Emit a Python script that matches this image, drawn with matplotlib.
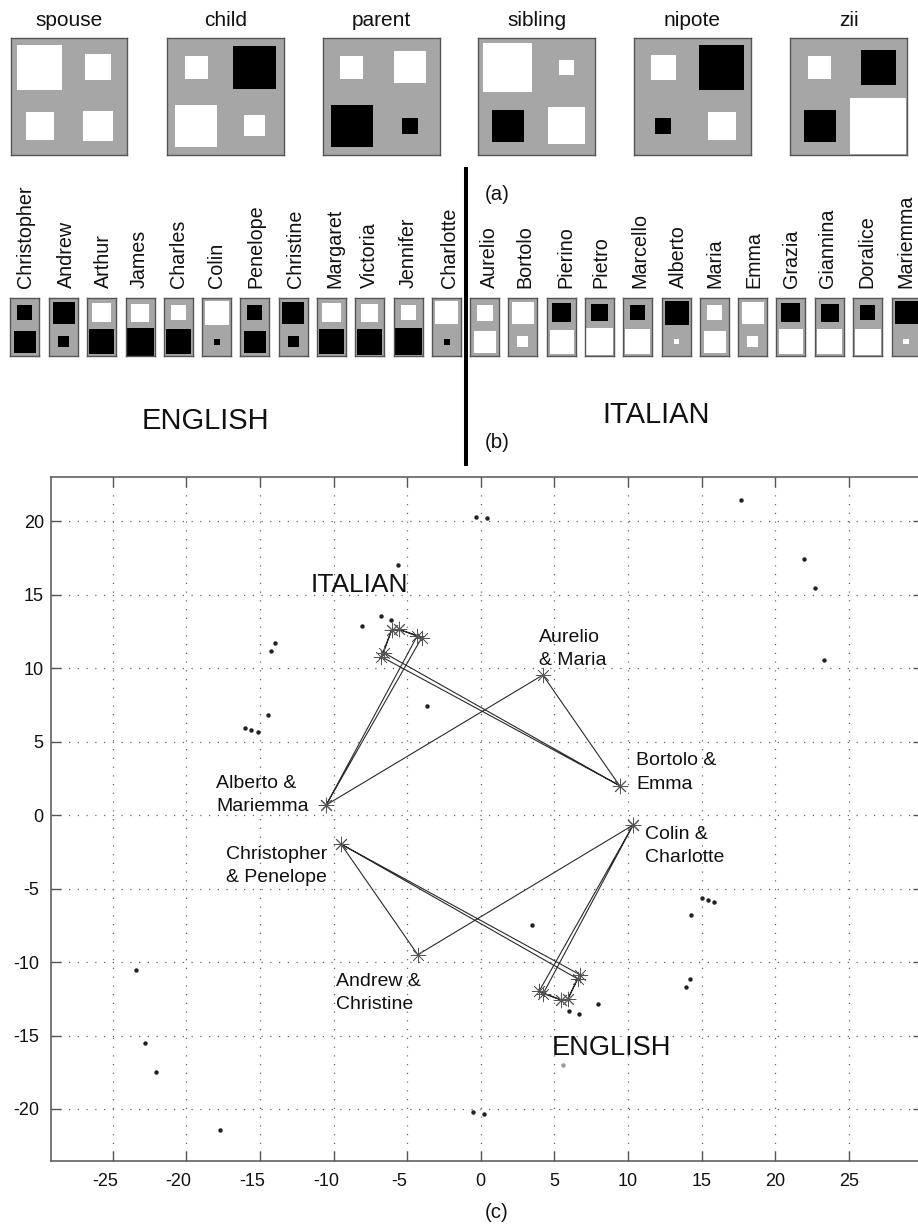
import matplotlib
matplotlib.use('Agg')
import matplotlib.pyplot as plt
from matplotlib.lines import Line2D
from matplotlib.patches import Rectangle
from matplotlib.transforms import ScaledTranslation

plt.rcParams['font.family'] = ['Liberation Sans', 'DejaVu Sans']
plt.rcParams['axes.unicode_minus'] = False

W, H = 918, 1225
DPI = 100

# relation matrices, signed box side (white > 0, black < 0), 2 x 2 cells
relations = ['spouse', 'child', 'parent', 'sibling', 'nipote', 'zii']
spouse = [[45, 26], [28, 30]]
child = [[23, -43], [42, 21]]
parent = [[23, 32], [-42, -16]]
sibling = [[49, 15], [-32, 37]]
nipote = [[25, -45], [-16, 28]]
zii = [[23, -35], [-32, 56]]
relation_values = [spouse, child, parent, sibling, nipote, zii]

# person vectors, signed box side, one column by two rows
english_names = ['Christopher', 'Andrew', 'Arthur', 'James', 'Charles', 'Colin',
                 'Penelope', 'Christine', 'Margaret', 'Victoria', 'Jennifer', 'Charlotte']
english_top = [-15.3, -22, 19.3, 18, 14.7, 24, -15.3, -22, 19.3, 18, 15.3, 23.3]
english_bottom = [-22, -10.7, -24.7, -28, -25, -6, -22, -10.7, -24.7, -26, -27, -6]

italian_names = ['Aurelio', 'Bortolo', 'Pierino', 'Pietro', 'Marcello', 'Alberto',
                 'Maria', 'Emma', 'Grazia', 'Giannina', 'Doralice', 'Mariemma']
italian_top = [15.7, 22, -19, -17.3, -14.7, -24, 15, 22.3, -19, -17.7, -15.3, -23]
italian_bottom = [22, 11, 24, 26.7, 25, 5.7, 22, 10.7, 24.3, 25, 26, 5.7]

# embedding, outlying points
dots_x = [-13.98, -14.26, -14.43, -16.04, -15.63, -15.16, -3.62, -23.44, -22.78, -22.02, -17.74,
          17.65, 21.93, 22.7, 23.33, 14.17, 13.9, -5.65, -0.36, 0.4, -6.79, -6.11, -8.05,
          7.97, 6.02, 6.7, 15.0, 15.4, 15.8, 14.3, 3.5, -0.5, 0.25]
dots_y = [11.7, 11.16, 6.82, 5.94, 5.8, 5.64, 7.43, -10.54, -15.51, -17.48, -21.45,
          21.46, 17.46, 15.49, 10.54, -11.13, -11.7, 17.0, 20.3, 20.2, 13.54, 13.31, 12.86,
          -12.85, -13.33, -13.55, -5.65, -5.8, -5.93, -6.8, -7.46, -20.2, -20.35]
grey_dot_x = [5.55]
grey_dot_y = [-17.0]

# embedding, starred rings
italian_ring_x = [-10.5, 4.21, 9.42, -6.6, -6.06, -6.76, 9.42]
italian_ring_y = [0.69, 9.54, 2.01, 11.07, 12.58, 10.79, 2.01]
italian_ring2_x = [-10.5, -4.3, -5.57, -4.02, -10.5]
italian_ring2_y = [0.69, 12.23, 12.65, 12.07, 0.69]
italian_link_x = [-6.06, -5.57]
italian_link_y = [12.58, 12.65]

english_ring_x = [10.34, -4.28, -9.5, 6.73, 5.9, 6.57, -9.5]
english_ring_y = [-0.67, -9.5, -1.96, -10.86, -12.53, -11.14, -1.96]
english_ring2_x = [10.34, 4.24, 5.46, 3.96, 10.34]
english_ring2_y = [-0.67, -12.14, -12.58, -11.98, -0.67]
english_link_x = [5.9, 5.46]
english_link_y = [-12.53, -12.58]

ticks_x = [-25, -20, -15, -10, -5, 0, 5, 10, 15, 20, 25]
ticks_y = [-20, -15, -10, -5, 0, 5, 10, 15, 20]

# layout, in pixels of the picture
relation_left = [10.5, 167, 322.6, 478.4, 634, 790.4]
english_left = [10.3, 49.3, 87.3, 125.7, 163.7, 202.3, 240.3, 278.7, 317, 355, 393.7, 432]
italian_left = [470.3, 508.3, 547, 585, 623.3, 662, 700, 738.3, 776.3, 815.3, 853.3, 891.7]
english_base = [31, 72, 109, 144.3, 184, 221.7, 261.7, 301, 340, 375, 413.3, 455]
italian_base = [494.7, 530.7, 571, 606, 645, 684.3, 720, 759.3, 796.7, 833.3, 872.7, 911]


def add_px_axes(fig, left, top, width, height):
    return fig.add_axes([left / W, 1 - (top + height) / H, width / W, height / H])


def put_text(fig, x, y, s, **kw):
    # x, y in picture pixels
    return fig.text(x / W, 1 - y / H, s, **kw)


def hinton(ax, rows, cell):
    nrows, ncols = len(rows), len(rows[0])
    ax.set_xlim(0, ncols)
    ax.set_ylim(nrows, 0)
    ax.set_xticks([])
    ax.set_yticks([])
    ax.set_facecolor('#a6a6a6')
    for spine in ax.spines.values():
        spine.set_color('#555555')
        spine.set_linewidth(1.0)
    for r, row in enumerate(rows):
        for c, v in enumerate(row):
            side = abs(v) / cell
            ax.add_patch(Rectangle((c + 0.5 - side / 2, r + 0.5 - side / 2), side, side,
                                   facecolor='white' if v > 0 else 'black', edgecolor='none'))


fig = plt.figure(figsize=(W / DPI, H / DPI), dpi=DPI)

for name, vals, left in zip(relations, relation_values, relation_left):
    ax = add_px_axes(fig, left, 38, 117, 117)
    hinton(ax, vals, 58.5)
    put_text(fig, left + 58.5, 25.5, name, ha='center', va='baseline', fontsize=15, color='#111111')

for names, top, bottom, lefts, bases in [(english_names, english_top, english_bottom, english_left, english_base),
                                         (italian_names, italian_top, italian_bottom, italian_left, italian_base)]:
    for i, name in enumerate(names):
        ax = add_px_axes(fig, lefts[i], 298.3, 29, 57.7)
        hinton(ax, [[top[i]], [bottom[i]]], 29)
        put_text(fig, bases[i], 288.3, name, rotation=90, rotation_mode='anchor',
                 ha='left', va='baseline', fontsize=14.2, color='#111111')

put_text(fig, 141.7, 429.3, 'ENGLISH', fontsize=21, va='baseline', color='#111111')
put_text(fig, 602.7, 422.7, 'ITALIAN', fontsize=21, va='baseline', color='#111111')
put_text(fig, 485, 195, '(a)', fontsize=14.7, va='center', color='#111111')
put_text(fig, 485, 443, '(b)', fontsize=14.7, va='center', color='#111111')
put_text(fig, 496.7, 1212.7, '(c)', fontsize=14.7, ha='center', va='center', color='#111111')

fig.add_artist(Line2D([466 / W, 466 / W], [1 - 167 / H, 1 - 466 / H], color='black', lw=2.9,
                      solid_capstyle='butt', transform=fig.transFigure))

# embedding panel, right spine falls just off the picture
ax = add_px_axes(fig, 50.7, 477, 872, 684)
ax.set_xlim(-29.2, 30)
ax.set_ylim(-23.54, 23.02)
ax.set_xticks(ticks_x)
ax.set_yticks(ticks_y)
ax.tick_params(direction='in', length=7.2, width=1.0, color='#555555', labelsize=13,
               labelcolor='#111111', top=True, right=True)
ax.tick_params(axis='x', pad=8.5)
ax.tick_params(axis='y', pad=5)
for spine in ax.spines.values():
    spine.set_color('#555555')
    spine.set_linewidth(1.1)
ax.grid(True, color='#666666', lw=0.9, linestyle=(0, (1, 6)))
ax.set_axisbelow(True)

for lab, t in zip(ax.get_xticklabels(), ticks_x):
    if t < 0:
        lab.set_transform(lab.get_transform() + ScaledTranslation(-7.5 / DPI, 0, fig.dpi_scale_trans))
for lab, t in zip(ax.get_yticklabels(), ticks_y):
    if t < 0:
        lab.set_transform(lab.get_transform() + ScaledTranslation(-5 / DPI, 0, fig.dpi_scale_trans))

ax.plot(dots_x, dots_y, 'o', ms=3.2, color='#222222', mec='none')
ax.plot(grey_dot_x, grey_dot_y, 'o', ms=3.2, color='#999999', mec='none')

for xs, ys in [(italian_ring_x, italian_ring_y), (italian_ring2_x, italian_ring2_y),
               (italian_link_x, italian_link_y), (english_ring_x, english_ring_y),
               (english_ring2_x, english_ring2_y), (english_link_x, english_link_y)]:
    ax.plot(xs, ys, color='#2a2a2a', lw=0.8, marker=(8, 2, 0), ms=11, mew=0.5, mec='#555555')

pair_labels = [(-17.96, 1.35, 'Alberto &\nMariemma'), (-17.33, -3.45, 'Christopher\n& Penelope'),
               (3.98, 11.3, 'Aurelio\n& Maria'), (10.55, 2.9, 'Bortolo &\nEmma'),
               (11.18, -2.1, 'Colin &\nCharlotte'), (-9.8, -12.1, 'Andrew &\nChristine')]
for x, y, s in pair_labels:
    ax.text(x, y, s, fontsize=14, va='center', ha='left', linespacing=1.48, color='#111111')
ax.text(-11.56, 15.65, 'ITALIAN', fontsize=19, va='center', color='#111111')
ax.text(4.8, -15.85, 'ENGLISH', fontsize=19.6, va='center', color='#111111')

fig.savefig('out.png', dpi=DPI)
